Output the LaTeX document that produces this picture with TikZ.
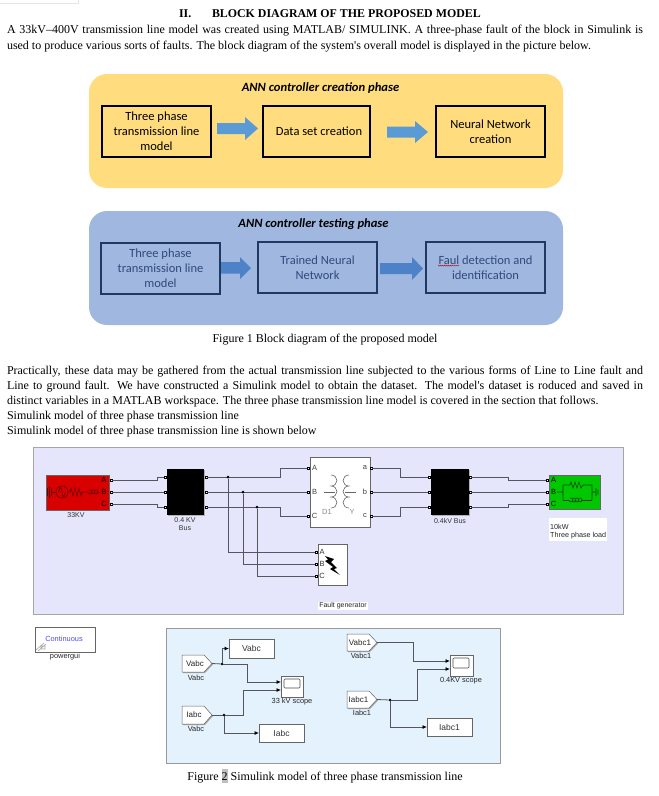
\documentclass[tikz,border=0pt]{standalone}
\usepackage{fontspec}
\setmainfont{Liberation Serif}
\newfontfamily\plainserif{Liberation Serif}
\newfontfamily\calfont{Carlito}
\newfontfamily\arialfont{Liberation Sans}
\usetikzlibrary{arrows.meta,decorations.pathmorphing}
\definecolor{yel}{HTML}{FFDD7F}
\definecolor{blu}{HTML}{A0B7E0}
\definecolor{arr}{HTML}{5B9BD5}
\definecolor{arrb}{HTML}{4D82C8}
\definecolor{dkb}{HTML}{1F3864}
\definecolor{txb}{HTML}{2F4A7C}
\definecolor{pan}{HTML}{E5E5FB}
\definecolor{panb}{HTML}{E3F2FD}
\definecolor{wirec}{HTML}{555560}
\tikzset{
  x=1pt,y=-1pt,
  bodyline/.style={anchor=base west,inner sep=0,outer sep=0,font=\plainserif\fontsize{12}{14}\selectfont},
  headline/.style={anchor=base west,inner sep=0,outer sep=0,font=\bfseries\fontsize{11.9}{14}\selectfont},
  captext/.style={anchor=base,inner sep=0,font=\fontsize{12}{14}\selectfont},
  phase/.style={draw=black,line width=1.4pt,inner sep=0,outer sep=0,align=center,font=\calfont\fontsize{12.5}{15}\selectfont},
  phaseb/.style={draw=dkb,line width=1.4pt,inner sep=0,outer sep=0,align=center,text=txb,font=\calfont\fontsize{12.5}{15}\selectfont},
  phtitle/.style={inner sep=0,font=\calfont\bfseries\itshape\fontsize{12.6}{14}\selectfont},
  panel/.style={draw=#1,line width=.7pt,inner sep=0,outer sep=0},
  sblock/.style={draw=black!60,line width=.5pt,fill=white,inner sep=0,outer sep=0},
  port/.style={draw=black,fill=white,line width=.6pt,minimum size=2.4pt,inner sep=0,outer sep=0},
  wire/.style={draw=wirec,line width=.8pt},
  sig/.style={draw=wirec,line width=.8pt,-{Latex[black,length=4.5pt,width=4pt]}},
  dot/.style={circle,fill=black,minimum size=3pt,inner sep=0,outer sep=0},
  slabel/.style={inner sep=0,font=\arialfont\fontsize{7}{7.6}\selectfont,text=black!80,align=center},
  plabel/.style={inner sep=0,font=\arialfont\fontsize{7.4}{8}\selectfont,text=black!85},
  taglabel/.style={inner sep=0,font=\arialfont\fontsize{8}{8}\selectfont,text=black!85},
  tlabel/.style={inner sep=0,font=\arialfont\fontsize{8.5}{9}\selectfont,text=black!80},
  portletter/.style={inner sep=0,font=\arialfont\fontsize{7.5}{8}\selectfont},
  symb/.style={line width=.6pt},
}
\newcommand\bx[7][]{% style, name, x1,y1,x2,y2, text
  \pgfmathsetmacro\bw{#5-#3}\pgfmathsetmacro\bh{#6-#4}%
  \pgfmathsetmacro\bcx{(#5+#3)/2}\pgfmathsetmacro\bcy{(#6+#4)/2}%
  \node[#1,minimum width=\bw pt,minimum height=\bh pt] (#2) at (\bcx,\bcy) {#7};}
\newcommand\shad[4]{\fill[black!30] (#1+1,#2+1) rectangle (#3+1,#4+1);}
\newcommand\coil[4]{% x, y top, bulge, style
  \draw[#4] (#1,#2) arc[start angle=-90,end angle=90,x radius=#3,y radius=5.5]
    arc[start angle=-90,end angle=90,x radius=#3,y radius=5.5]
    arc[start angle=-90,end angle=90,x radius=#3,y radius=5.5];}
\newcommand\tagblk[5]{% name x1 y1 x2 y2 : pentagon
  \pgfmathsetmacro\tmx{(#3+#5)/2}\pgfmathsetmacro\tnk{#4-8}%
  \fill[black!35] (#2+1,#3+1) -- (\tnk+1,#3+1) -- (#4+1,\tmx+1) -- (\tnk+1,#5+1) -- (#2+1,#5+1) -- cycle;
  \draw[draw=black!60,line width=.5pt,fill=white] (#2,#3) -- (\tnk,#3) -- (#4,\tmx) -- (\tnk,#5) -- (#2,#5) -- cycle;
  \coordinate (#1) at (#4,\tmx);}
\begin{document}
\begin{tikzpicture}
\useasboundingbox (0,0) rectangle (659,796);
\fill[white] (0,0) rectangle (659,796);
\draw[black!10,line width=.4pt] (0,3.5) -- (78,3.5) -- (78,0);
% heading and body text
\node[headline] (hA) at (179,17) {II.};
\node[headline] (hB) at (212,17) {BLOCK DIAGRAM OF THE PROPOSED MODEL};
\node[bodyline] (t1) at (7,33) {\makebox[636pt][s]{A 33kV–400V transmission line model was created using MATLAB/ SIMULINK. A three-phase fault of the block in Simulink is}};
\node[bodyline] (t2) at (7,49) {\makebox[584pt][s]{used to produce various sorts of faults. The block diagram of the system's overall model is displayed in the picture below.}};
% yellow panel
\fill[yel,rounded corners=18pt] (89,74) rectangle (563,188);
\node[phtitle] (ty) at (320.5,88) {ANN controller creation phase};
\bx[phase]{y1}{102}{106}{211}{157}{Three phase\\transmission line\\model}
\bx[phase]{y2}{263}{106}{370}{157}{\hspace{5pt}Data set creation}
\bx[phase]{y3}{436}{106}{545}{157}{Neural Network\\creation}
\fill[arr] (217,123) -- (245,123) -- (245,117) -- (258,128.5) -- (245,140) -- (245,134) -- (217,134) -- cycle;
\fill[arr] (387,126.5) -- (415,126.5) -- (415,121) -- (428,132) -- (415,143) -- (415,137.5) -- (387,137.5) -- cycle;
% blue panel
\fill[blu,rounded corners=18pt] (89,211) rectangle (563,325);
\node[phtitle] (tb) at (313.5,224) {ANN controller testing phase};
\bx[phaseb]{b1}{101}{243}{220}{294}{Three phase\\transmission line\\model}
\bx[phaseb]{b2}{258}{242}{377}{293}{Trained Neural\\Network}
\bx[phaseb]{b3}{426}{242}{545}{293}{Faul detection and\\identification}
\fill[arrb] (221,262) -- (240,262) -- (240,257) -- (251,268) -- (240,279) -- (240,273.5) -- (221,273.5) -- cycle;
\fill[arrb] (380,263) -- (412,263) -- (412,257) -- (423,268.5) -- (412,280) -- (412,274) -- (380,274) -- cycle;
\draw[red!70!black,line width=.35pt,decorate,decoration={zigzag,amplitude=.5pt,segment length=2pt}] (438,265.5) -- (459,265.5);
\node[captext] (c1) at (325,342) {Figure 1 Block diagram of the proposed model};
% paragraph
\node[bodyline] (p1) at (7,374) {\makebox[636pt][s]{Practically, these data may be gathered from the actual transmission line subjected to the various forms of Line to Line fault and}};
\node[bodyline] (p2) at (7,389) {\makebox[636pt][s]{Line to ground fault. We have constructed a Simulink model to obtain the dataset. The model's dataset is roduced and saved in}};
\node[bodyline] (p3) at (7,404) {distinct variables in a MATLAB workspace. The three phase transmission line model is covered in the section that follows.};
\node[bodyline] (p4) at (7,419) {Simulink model of three phase transmission line};
\node[bodyline] (p5) at (7,434) {Simulink model of three phase transmission line is shown below};
% upper simulink panel
\bx[panel=black!35,fill=pan]{pa}{33}{447}{623}{614}{}
% blocks
\shad{46}{475}{109}{510}
\bx[draw=black!60,fill=red!85!black,line width=.5pt,inner sep=0]{src}{46}{475}{109}{510}{}
\shad{167}{469}{204}{515}
\bx[fill=black,inner sep=0]{bus1}{167}{469}{204}{515}{}
\shad{310}{457}{370}{527}
\bx[sblock]{tr}{310}{457}{370}{527}{}
\shad{431}{469}{469}{515}
\bx[fill=black,inner sep=0]{bus2}{431}{469}{469}{515}{}
\shad{549}{475}{600}{509}
\bx[draw=black!60,fill=green!78!black,line width=.5pt,inner sep=0]{load}{549}{475}{600}{509}{}
\shad{318}{544}{347}{585}
\bx[sblock]{fg}{318}{544}{347}{585}{}
% ports
\foreach \n/\x/\y in {sa/111/480,sb/111/492,sc/111/504,
  bla/165/477,blb/165/492,blc/165/507,bra/206/477,brb/206/492,brc/206/507,
  tA/308/468,tB/308/492,tC/308/516,ta/371/468,tb/371/492,tc/371/516,
  cla/429/477,clb/429/492,clc/429/507,cra/470/477,crb/470/492,crc/470/507,
  lA/547/480,lB/547/492,lC/547/504,fA/316/552,fB/316/564,fC/316/576}
  {\node[port] (\n) at (\x,\y) {};}
% wires
\draw[wire] (sa) -| (157,477) -- (bla);
\draw[wire] (sb) -- (blb);
\draw[wire] (sc) -| (157,507) -- (blc);
\draw[wire] (bra) -| (280,468) -- (tA);
\draw[wire] (brb) -- (tB);
\draw[wire] (brc) -| (280,516) -- (tC);
\draw[wire] (ta) -| (400,477) -- (cla);
\draw[wire] (tb) -- (clb);
\draw[wire] (tc) -| (400,507) -- (clc);
\draw[wire] (cra) -| (508,480) -- (lA);
\draw[wire] (crb) -- (lB);
\draw[wire] (crc) -| (508,504) -- (lC);
\node[dot] (j1) at (228,477) {};
\node[dot] (j2) at (243,492) {};
\node[dot] (j3) at (257,507) {};
\draw[wire] (j1) |- (fA);
\draw[wire] (j2) |- (fB);
\draw[wire] (j3) |- (fC);
% source symbol and letters
\draw[symb,red!40!black] (47,488) -- (47,496) (49,486.5) -- (49,497.5) (51,488) -- (51,496);
\draw[symb,red!40!black] (51,492) -- (56,492);
\draw[symb,red!40!black] (62,492) circle[radius=6];
\draw[symb,red!40!black] (58.5,492) .. controls (60,486) and (61,486) .. (62,492) .. controls (63,498) and (64,498) .. (65.5,492);
\draw[symb,red!40!black] (68,492) -- (70,492) -- (71,488) -- (73,496) -- (75,488) -- (77,496) -- (79,488) -- (81,496) -- (82,492) -- (88,492);
\foreach \k in {88,91,94}{\draw[symb,red!40!black] (\k,492) arc[start angle=180,end angle=-120,radius=2];}
\draw[symb,red!40!black] (97,492) -- (99,492);
\foreach \n/\l/\y in {sla/A/480,slb/B/492,slc/C/504}{\node[portletter,text=black] (\n) at (104,\y) {\l};}
\node[slabel] (l33) at (76,515) {33KV};
\node[slabel] (lb1) at (185,524) {0.4 KV\\Bus};
\node[slabel] (lb2) at (450,521) {0.4kV Bus};
% transformer
\foreach \n/\l/\xx/\y in {ttA/A/314.5/468,ttB/B/314.5/492,ttC/C/314.5/516,tta/a/365/468,ttb/b/365/492,ttc/c/365/516}
  {\node[portletter,text=black!75] (\n) at (\xx,\y) {\l};}
\draw[symb,black!60] (324,492) -- (335,492);
\draw[symb,black!60] (345,492) -- (356,492);
\coil{331}{475}{6}{symb,black!60}
\coil{349}{475}{-6}{symb,black!60}
\node[portletter,text=black!45] (td) at (327,512) {D1};
\node[portletter,text=black!45] (ty2) at (352,512) {Y};
% fault symbol
\foreach \n/\l/\y in {ffA/A/552,ffB/B/564,ffC/C/576}{\node[portletter,text=black!80] (\n) at (322,\y) {\l};}
\fill[black] (325,556) -- (334,559) -- (331,562) -- (337,568) -- (334,569) -- (340,575) -- (330,569) -- (333,567) -- (325,561) -- (328,559.5) -- cycle;
\node[fill=white,inner sep=1pt,font=\arialfont\fontsize{7}{7}\selectfont,text=black!85] (lfg) at (343,606) {Fault generator};
% load symbol
\foreach \n/\l/\y in {lla/A/480,llb/B/492,llc/C/504}{\node[portletter,text=black] (\n) at (553.5,\y) {\l};}
\draw[symb,green!25!black] (557,492) -- (563,492) (563,485) -- (563,500) (563,485) -- (570,485) -- (571,482) -- (573,488) -- (575,482) -- (577,488) -- (579,482) -- (581,488) -- (583,485) -- (592,485) -- (592,500) (592,492) -- (596,492) (596,488) -- (596,496) (598,489.5) -- (598,494.5);
\draw[symb,green!25!black] (563,500) -- (569,500);
\foreach \k in {569,572,575,578}{\draw[symb,green!25!black] (\k,500) arc[start angle=180,end angle=-120,radius=2];}
\draw[symb,green!25!black] (581,500) -- (592,500);
\fill[white] (549,518) rectangle (607,541);
\node[anchor=west,inner sep=0,font=\arialfont\fontsize{7.2}{8}\selectfont,text=black!85,align=left] (lload) at (550,532) {10kW\\Three phase load};
% powergui
\shad{35}{627}{95}{652}
\bx[sblock]{pg}{35}{627}{95}{652}{}
\node[inner sep=0,text=blue!70!white,font=\arialfont\fontsize{7.4}{8}\selectfont] (pgt) at (64,639) {Continuous};
\draw[black!35,line width=.6pt] (36,650) -- (44,643) (38,651) -- (46,644) (41,646) rectangle (45,649);
\node[plabel] (pgl) at (65,657) {powergui};
% lower panel
\bx[panel=black!40,fill=panb]{pb}{166}{628}{500}{763}{}
% left half
\tagblk{v1}{182}{655}{212}{672}
\tagblk{i1}{182}{706}{212}{724}
\node[taglabel] (v1t) at (195,664) {Vabc};
\node[taglabel] (i1t) at (194,715) {Iabc};
\node[plabel] (v1l) at (196,677.5) {Vabc};
\node[plabel] (i1l) at (196,729) {Vabc};
\shad{229}{639}{274}{658}
\bx[sblock,tlabel]{gv}{229}{639}{274}{658}{Vabc}
\shad{259}{724}{304}{742}
\bx[sblock,tlabel]{gi}{259}{724}{304}{742}{Iabc}
\shad{281}{676}{303}{697}
\bx[sblock]{sc1}{281}{676}{303}{697}{}
\draw[black!70,line width=.6pt,fill=white,rounded corners=1pt] (284,679) rectangle (300,688);
\node[plabel] (sc1l) at (292,701.5) {33 kV scope};
\node[dot,minimum size=2.6pt] (j4) at (222,664) {};
\node[dot,minimum size=2.6pt] (j5) at (224,715) {};
\coordinate (sc1a) at (281,682);
\coordinate (sc1b) at (281,690);
\draw[wire] (v1) -- (j4);
\draw[wire] (i1) -- (j5);
\draw[sig] (j4) |- (gv.west);
\draw[sig] (j4) -| (247,682) -- (sc1a);
\draw[sig] (j5) -| (243,690) -- (sc1b);
\draw[sig] (j5) |- (gi.west);
% right half
\tagblk{v2}{347}{634}{377}{651}
\tagblk{i2}{347}{691}{377}{708}
\node[taglabel] (v2t) at (360,642.5) {Vabc1};
\node[taglabel] (i2t) at (358.5,699.5) {Iabc1};
\node[plabel] (v2l) at (361,656) {Vabc1};
\node[plabel] (i2l) at (362,713) {Iabc1};
\shad{450}{655}{473}{676}
\bx[sblock]{sc2}{450}{655}{473}{676}{}
\draw[black!70,line width=.6pt,fill=white,rounded corners=1pt] (453,658) rectangle (469,668);
\node[plabel] (sc2l) at (461,680.5) {0.4KV scope};
\shad{427}{718}{472}{736}
\bx[sblock,tlabel]{gi2}{427}{718}{472}{736}{Iabc1}
\node[dot,minimum size=2.6pt] (j6) at (390,700) {};
\coordinate (sc2a) at (450,661);
\coordinate (sc2b) at (450,669);
\draw[sig] (v2) -| (413,661) -- (sc2a);
\draw[wire] (i2) -- (j6);
\draw[sig] (j6) -| (417,669) -- (sc2b);
\draw[sig] (j6) |- (gi2.west);
% caption
\node[captext] (c2) at (325,780) {Figure \colorbox{black!25}{\hspace{-3pt}2\hspace{-3pt}} Simulink model of three phase transmission line};
\end{tikzpicture}
\end{document}
